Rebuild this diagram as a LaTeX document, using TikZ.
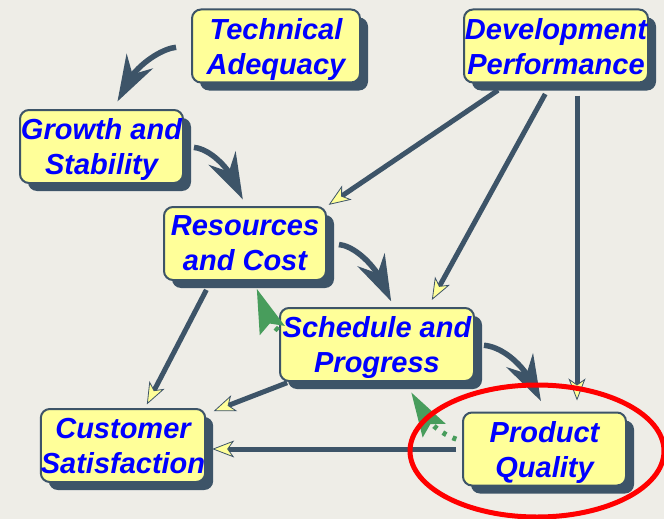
\documentclass[tikz,border=0pt]{standalone}
\usepackage{fontspec}
\setmainfont{Liberation Sans}
\usetikzlibrary{arrows.meta,shadows,bending}
\definecolor{boxfill}{HTML}{FFFF99}
\definecolor{edge}{HTML}{3D5468}
\definecolor{paper}{HTML}{EEEDE7}
\definecolor{loopgreen}{HTML}{489D5C}
\definecolor{textblue}{HTML}{0000FF}

\begin{document}
\begin{tikzpicture}[
    x=1pt, y=-1pt, % pixel units, (0,0) at top left
    box/.style={rounded corners=9pt, draw=edge, line width=2pt, fill=boxfill,
        drop shadow={shadow xshift=8pt, shadow yshift=-8pt, fill=edge, opacity=1},
        minimum height=73pt, inner sep=0pt, align=center, text=textblue, text depth=0pt,
        font=\fontsize{29}{35}\selectfont\bfseries\itshape},
    flow/.style={edge, line width=5.5pt, -{Stealth[length=46pt, width=30pt, inset=15pt]}},
    link/.style={edge, line width=5pt, -{Stealth[length=22pt, width=17pt, inset=6pt, fill=boxfill, line width=0.8pt]}},
    back/.style={loopgreen, line width=5pt, dash pattern=on 4pt off 7pt, -{Stealth[length=44pt, width=26pt, inset=7pt]}}
]
\fill[paper] (0,0) rectangle (664,519);
\useasboundingbox (0,0) rectangle (664,519);

% boxes
\node[box, minimum width=168pt] (tech) at (276,46) {Technical\\Adequacy};
\node[box, minimum width=184pt] (dev) at (556,46) {Development\\Performance};
\node[box, minimum width=163pt] (growth) at (101.5,146.5) {Growth and\\Stability};
\node[box, minimum width=162pt] (res) at (245,243.5) {Resources\\and Cost};
\node[box, minimum width=194pt] (sched) at (377,344.5) {Schedule and\\Progress};
\node[box, minimum width=164pt] (cust) at (123,445.5) {Customer\\Satisfaction};
\node[box, minimum width=163pt] (prod) at (544.5,449) {Product\\Quality};

% main chain
\draw[flow, shorten <=15pt, shorten >=8pt] (tech.west) to[out=185, in=74] ([xshift=13.5pt]growth.north);
\draw[flow, shorten <=10pt, shorten >=7pt] (growth.east) to[out=-5, in=107] (res.north);
\draw[flow, shorten <=12pt, shorten >=6pt] (res.east) to[out=-5, in=107] ([xshift=16pt]sched.north);
\draw[flow, shorten <=9pt, shorten >=11pt] (sched.east) to[out=-5, in=107] (prod.north);

% influences
\draw[link, shorten <=12pt, shorten >=2pt] ([xshift=-48pt]dev.south) -- (res.north east);
\draw[link, shorten <=12pt, shorten >=8pt] ([xshift=-5pt]dev.south) -- ([xshift=51pt]sched.north);
\draw[link, shorten <=12pt, shorten >=11pt] ([xshift=21pt]dev.south) -- ([xshift=32.5pt]prod.north);
\draw[link, shorten <=10pt, shorten >=4pt] ([xshift=-34pt]res.south) -- ([xshift=22pt]cust.north);
\draw[link, shorten <=2pt, shorten >=8pt] ([xshift=10pt]sched.south west) -- ([yshift=-6pt]cust.north east);
\draw[link, shorten <=6pt, shorten >=6pt] (prod.west) -- (prod.west -| cust.east);

% feedback
\draw[back, shorten <=6pt, shorten >=11pt] ([yshift=8pt]prod.west) to[out=162, in=-75] ([xshift=31pt]sched.south);
\draw[back, shorten <=1pt, shorten >=8pt] ([yshift=13.5pt]sched.west) to[out=140, in=-77] ([xshift=10pt]res.south);

% highlight
\draw[red, line width=5pt] (537,451) ellipse [x radius=127pt, y radius=66pt];
\end{tikzpicture}
\end{document}
